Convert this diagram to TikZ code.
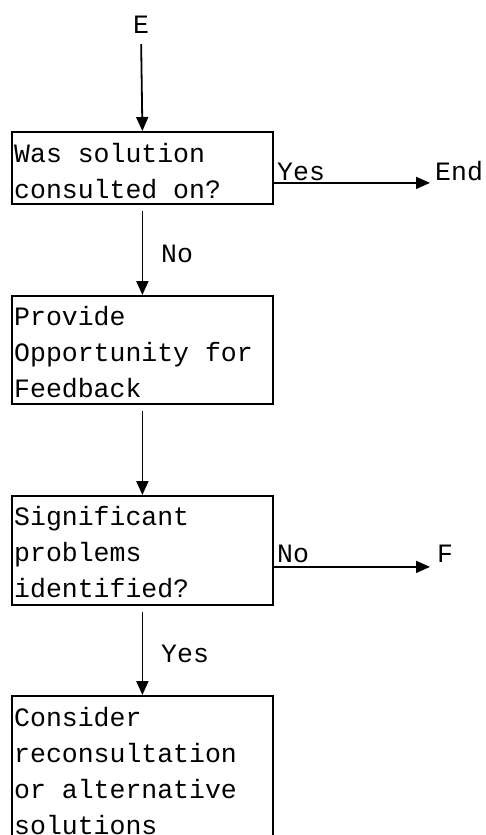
\documentclass[tikz,border=0pt]{standalone}
\usepackage{fontspec}
\usetikzlibrary{arrows.meta}
\newfontfamily\flowmono{Liberation Mono}
\tikzset{
  boxframe/.style={draw, line width=1.8pt, minimum width=261pt, inner sep=0pt, anchor=north west},
  boxtext/.style={anchor=base west, inner sep=0pt, align=left, font=\flowmono\fontsize{26.5}{36}\selectfont},
  lbl/.style={anchor=base west, inner sep=0pt, font=\flowmono\fontsize{26.5}{36}\selectfont},
  arr/.style={line width=1.8pt, -{Triangle[width=12pt,length=14pt]}}
}
\begin{document}
\begin{tikzpicture}[x=1pt,y=-1pt]
\clip (0,0) rectangle (486,835);
\useasboundingbox[fill=white] (0,0) rectangle (486,835);

% start / end markers
\node[lbl, anchor=base] (E) at (141,33) {E};
\node[lbl] (End) at (435,180) {End};
\node[lbl] (F) at (437,562) {F};

% process boxes
\node[boxframe, minimum height=72pt] (b1) at (11,131) {};
\node[boxframe, minimum height=108pt] (b2) at (11,295) {};
\node[boxframe, minimum height=109pt] (b3) at (11,495) {};
\node[boxframe, minimum height=170pt] (b4) at (11,695) {};

% box texts, placed by the baseline of their last line
\node[boxtext] (t1) at (14,198) {Was solution\\consulted on?};
\node[boxtext] (t2) at (14,397) {Provide\\Opportunity for\\Feedback};
\node[boxtext] (t3) at (14,597) {Significant\\problems\\identified?};
\node[boxtext] (t4) at (14,834) {Consider\\reconsultation\\or alternative\\solutions};

% branch labels
\node[lbl] (y1) at (277,180) {Yes};
\node[lbl] (n1) at (161,262) {No};
\node[lbl] (n2) at (277,562) {No};
\node[lbl] (y2) at (161,662) {Yes};

% connectors
\draw[arr, shorten <=11pt] (E.south) -- (b1.north);
\draw[arr, shorten <=6pt] (b1.south) -- (b2.north);
\draw[arr, shorten <=6pt] (b2.south) -- (b3.north);
\draw[arr, shorten <=6pt] (b3.south) -- (b4.north);
\draw[arr, shorten >=5pt] ([yshift=-15pt]b1.east) -- ([yshift=-15pt]b1.east -| End.west);
\draw[arr, shorten >=7pt] ([yshift=-16.5pt]b3.east) -- ([yshift=-16.5pt]b3.east -| F.west);
\end{tikzpicture}
\end{document}
